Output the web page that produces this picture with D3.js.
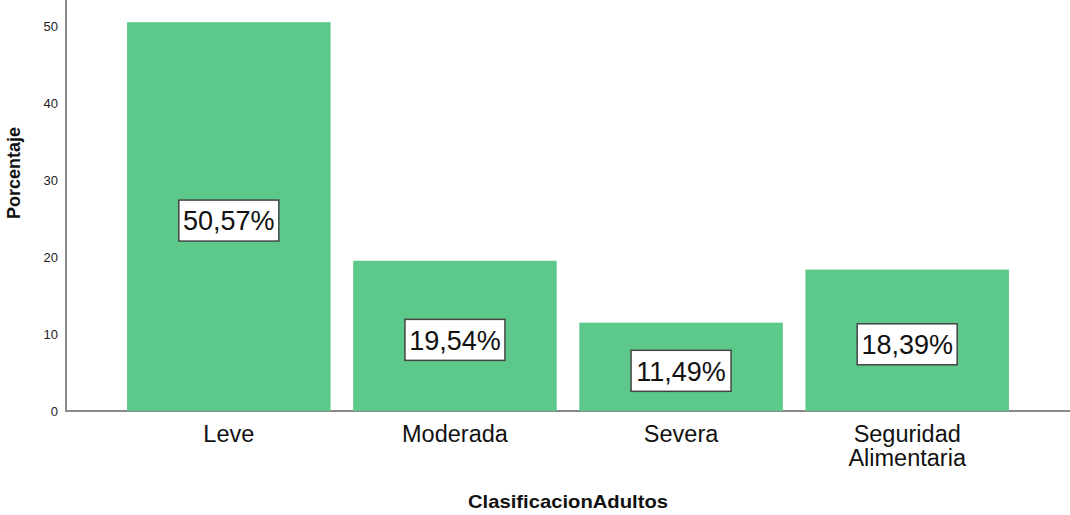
<!DOCTYPE html>
<html>
<head>
<meta charset="utf-8">
<script src="https://cdn.jsdelivr.net/npm/d3@7"></script>
<style>
	body { margin: 0; background: #fff; }
	svg { display: block; font-family: 'Liberation Sans', Arial, sans-serif; }
</style>
</head>
<body>
<svg id="chart" width="1070" height="515"></svg>
<script>
const categories = [['Leve'], ['Moderada'], ['Severa'], ['Seguridad', 'Alimentaria']]
const percentages = [50.57, 19.54, 11.49, 18.39]
const yTicks = [0, 10, 20, 30, 40, 50]
const xTitle = 'ClasificacionAdultos'
const yTitle = 'Porcentaje'

const svg = d3.select('#chart')
const plotLeft = 66, plotRight = 1070, plotBottom = 411, plotTop = 0

const x = d3.scaleBand()
	.domain(d3.range(categories.length))
	.range([plotLeft, plotRight])
	.paddingInner(0.1)
	.paddingOuter(0.27)

const y = d3.scaleLinear().domain([0, 53.45]).range([plotBottom, plotTop])

// y tick labels (no tick marks)
svg.append('g')
	.selectAll('text')
	.data(yTicks)
	.join('text')
	.attr('x', plotLeft - 8)
	.attr('y', d => y(d))
	.attr('dy', '0.35em')
	.attr('text-anchor', 'end')
	.attr('font-size', 13)
	.attr('fill', '#222')
	.text(d => d)

// axis lines
svg.append('line')
	.attr('x1', plotLeft).attr('x2', plotLeft)
	.attr('y1', plotTop).attr('y2', plotBottom)
	.attr('stroke', '#8a8a8a').attr('stroke-width', 2)
svg.append('line')
	.attr('x1', plotLeft - 1).attr('x2', plotRight)
	.attr('y1', plotBottom).attr('y2', plotBottom)
	.attr('stroke', '#8a8a8a').attr('stroke-width', 2)

// bars
svg.append('g')
	.selectAll('rect')
	.data(percentages)
	.join('rect')
	.attr('x', (d, i) => x(i))
	.attr('width', x.bandwidth())
	.attr('y', d => y(d))
	.attr('height', d => y(0) - y(d))
	.attr('fill', '#5cc98b')

// value labels in boxes
const fmt = v => d3.format('.2f')(v).replace('.', ',') + '%'
const lab = svg.append('g')
	.selectAll('g')
	.data(percentages)
	.join('g')
	.attr('transform', (d, i) => `translate(${x(i) + x.bandwidth() / 2},${(y(d) + y(0)) / 2 + 4})`)
lab.append('rect')
	.attr('x', -50).attr('y', -20.5)
	.attr('width', 100).attr('height', 41)
	.attr('fill', '#fff')
	.attr('stroke', '#444').attr('stroke-width', 1.5)
lab.append('text')
	.attr('text-anchor', 'middle')
	.attr('dy', '0.36em')
	.attr('font-size', 27)
	.attr('fill', '#111')
	.text(d => fmt(d))

// category labels
svg.append('g')
	.selectAll('text')
	.data(categories)
	.join('text')
	.attr('text-anchor', 'middle')
	.attr('font-size', 23.5)
	.attr('fill', '#111')
	.attr('transform', (d, i) => `translate(${x(i) + x.bandwidth() / 2},442)`)
	.selectAll('tspan')
	.data(d => d)
	.join('tspan')
	.attr('x', 0)
	.attr('y', (d, i) => i * 24)
	.text(d => d)

// axis titles
svg.append('text')
	.attr('x', (plotLeft + plotRight) / 2)
	.attr('y', 508)
	.attr('text-anchor', 'middle')
	.attr('font-size', 18.5)
	.attr('font-weight', 'bold')
	.attr('fill', '#111')
	.attr('textLength', 200)
	.attr('lengthAdjust', 'spacingAndGlyphs')
	.text(xTitle)
svg.append('text')
	.attr('transform', 'translate(20,173) rotate(-90)')
	.attr('text-anchor', 'middle')
	.attr('font-size', 18)
	.attr('font-weight', 'bold')
	.attr('fill', '#111')
	.text(yTitle)
</script>
</body>
</html>
